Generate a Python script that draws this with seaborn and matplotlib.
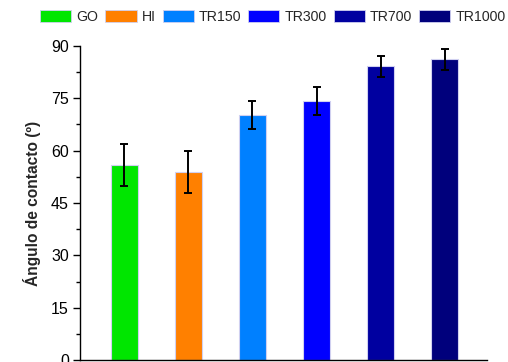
import matplotlib
matplotlib.use("Agg")
import matplotlib.pyplot as plt
from matplotlib.patches import Patch
from matplotlib.ticker import MultipleLocator
import seaborn as sns
import pandas as pd

# Contact angle per sample
samples = ["GO", "HI", "TR150", "TR300", "TR700", "TR1000"]
angles = [56.0, 54.0, 70.2, 74.1, 84.2, 86.2]
errors = [6.0, 6.0, 4.0, 4.0, 3.0, 3.0]
colors = ["#00e600", "#ff8000", "#0080ff", "#0000ff", "#0000a0", "#00007c"]

sns.set_theme(style="ticks")
plt.rcParams["font.family"] = ["Liberation Sans", "DejaVu Sans"]

df = pd.DataFrame({"muestra": samples, "angulo": angles})

fig = plt.figure(figsize=(5.08, 3.62), dpi=100)
ax = fig.add_axes([0.1575, 0.0055, 0.8012, 0.8675])

sns.barplot(data=df, x="muestra", y="angulo", hue="muestra",
            palette=colors, width=0.42, errorbar=None, legend=False,
            edgecolor="#d0d0f0", linewidth=0.8, saturation=1, ax=ax)
ax.errorbar(range(len(samples)), angles, yerr=errors, fmt="none",
            ecolor="black", elinewidth=1.4, capsize=3, capthick=1.4, zorder=5)

ax.set_xlim(-0.69, 5.66)
ax.set_ylim(0, 90)
ax.yaxis.set_major_locator(MultipleLocator(15))
ax.yaxis.set_minor_locator(MultipleLocator(7.5))
ax.tick_params(axis="y", which="major", length=5, width=1, labelsize=11.5,
               colors="black", pad=3)
ax.tick_params(axis="y", which="minor", length=3, width=1, colors="black")
ax.tick_params(axis="x", length=0, labelbottom=False)
ax.set_xlabel("")
ax.set_ylabel("Ángulo de contacto (º)", fontsize=11.2, fontweight="bold", labelpad=7)
for side in ("top", "right"):
    ax.spines[side].set_visible(False)
for side in ("left", "bottom"):
    ax.spines[side].set_color("black")
    ax.spines[side].set_linewidth(1)

handles = [Patch(facecolor=c, edgecolor="#d0d0f0", linewidth=0.6) for c in colors]
fig.legend(handles, samples, loc="upper center", bbox_to_anchor=(0.537, 1.0),
           ncol=6, frameon=False, fontsize=10.2, handlelength=2.2, handleheight=0.95,
           handletextpad=0.35, columnspacing=0.5, borderaxespad=0.3)

fig.savefig("out.png", dpi=100)
